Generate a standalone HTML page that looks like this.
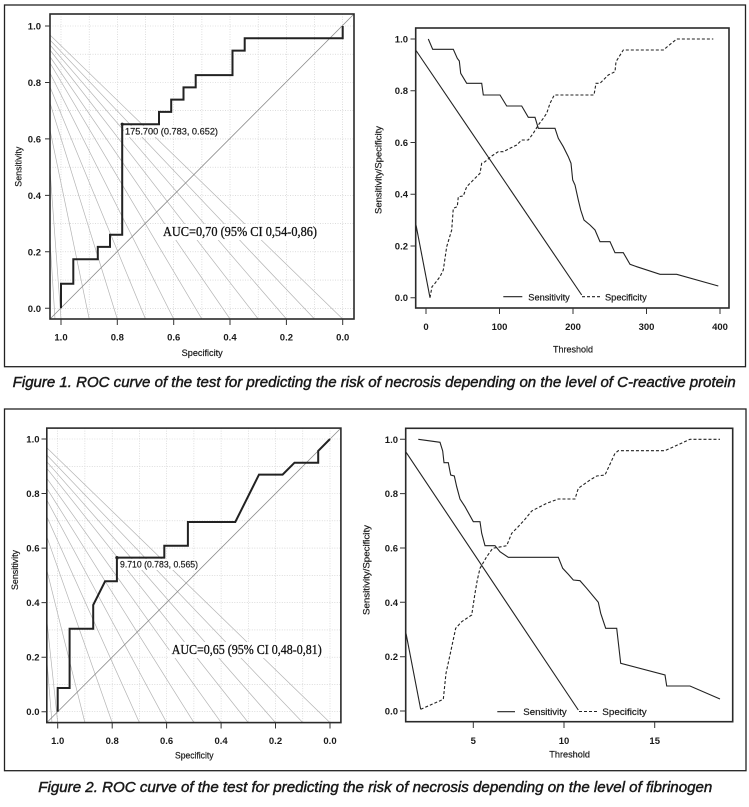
<!DOCTYPE html>
<html><head><meta charset="utf-8"><style>
html,body{margin:0;padding:0;background:#fff;}
svg{display:block;}
.tk{font-family:"Liberation Sans",Arial,sans-serif;font-size:9.5px;font-weight:bold;fill:#1a1a1a;}
.tt{font-family:"Liberation Sans",Arial,sans-serif;font-size:9px;fill:#1a1a1a;stroke:#1a1a1a;stroke-width:0.2;}
.lb{font-family:"Liberation Sans",Arial,sans-serif;font-size:9px;fill:#1a1a1a;stroke:#1a1a1a;stroke-width:0.2;}
.auc{font-family:"Liberation Serif","Times New Roman",serif;font-size:14px;fill:#111;stroke:#111;stroke-width:0.3;}
.cap{font-family:"Liberation Sans",Arial,sans-serif;font-size:14.5px;font-style:italic;fill:#1a1a1a;stroke:#1a1a1a;stroke-width:0.45;}
.fr{fill:none;stroke:#2a2a2a;stroke-width:1.6;}
.gr{stroke:#c8c8c8;stroke-width:0.6;stroke-dasharray:1 1.5;fill:none;}
.fan{stroke:#b4b4b4;stroke-width:0.7;fill:none;}
.roc{fill:none;stroke:#222;stroke-width:2;stroke-linejoin:miter;}
.sl{fill:none;stroke:#222;stroke-width:1.1;}
.ds{fill:none;stroke:#222;stroke-width:1.1;stroke-dasharray:3 2;}
.ax{stroke:#333;stroke-width:1;}
</style></head><body>
<svg width="749" height="807" viewBox="0 0 749 807" xmlns="http://www.w3.org/2000/svg">
<defs>
<clipPath id="ca"><rect x="50" y="14" width="304" height="305"/></clipPath>
<clipPath id="cc"><rect x="46.8" y="428.1" width="294.1" height="294.5"/></clipPath>
</defs>
<rect width="749" height="807" fill="#fff"/>

<!-- Boxes -->
<rect x="4.5" y="5" width="741" height="361.7" fill="none" stroke="#222" stroke-width="1.3"/>
<rect x="4.5" y="409" width="741.5" height="361.7" fill="none" stroke="#222" stroke-width="1.3"/>

<!-- ============ Chart A ============ -->
<g class="gr">
<path d="M61,14V319M89.2,14V319M117.3,14V319M145.5,14V319M173.7,14V319M201.9,14V319M230,14V319M258.2,14V319M286.4,14V319M314.5,14V319M342.7,14V319"/>
<path d="M50,26H354M50,54.2H354M50,82.5H354M50,110.7H354M50,138.9H354M50,167.2H354M50,195.4H354M50,223.6H354M50,251.8H354M50,280.1H354M50,308.3H354"/>
</g>
<g class="fan" clip-path="url(#ca)">
<path d="M50,35L342.7,319M50,40L314.5,319M50,45L286.4,319M50,50L258.2,319M50,56.7L230,319M50,63L201.9,319M50,73L173.7,319M50,87L145.5,319M50,103L117.3,319M50,130L89.2,319M50,170L61,319M50,240L55,319"/>
</g>
<path d="M50,319L354,14" stroke="#8a8a8a" stroke-width="0.8" fill="none"/>
<rect x="124" y="126" width="95" height="11" fill="#fff"/>
<rect x="161" y="224" width="158" height="16" fill="#fff"/>
<path class="roc" d="M61,308.3V283.8H73.3V259.2H97.8V246.9H110V234.7H122.2V124.2H159V111.9H171.2V99.6H183.5V87.4H195.7V75.1H232.5V50.6H244.7V38.3H342.7V26"/>
<circle cx="122.2" cy="124.2" r="1.6" fill="#222"/>
<text class="lb" x="125" y="134.5" textLength="93" lengthAdjust="spacingAndGlyphs">175.700 (0.783, 0.652)</text>
<text class="auc" x="163" y="236" textLength="154" lengthAdjust="spacingAndGlyphs">AUC=0,70 (95% CI 0,54-0,86)</text>
<rect class="fr" x="50" y="14" width="304" height="305"/>
<g class="ax">
<path d="M45,26H50M45,82.5H50M45,138.9H50M45,195.4H50M45,251.8H50M45,308.3H50"/>
<path d="M61,319V325M117.3,319V325M173.7,319V325M230,319V325M286.4,319V325M342.7,319V325"/>
</g>
<g class="tk" text-anchor="end">
<text x="41" y="29.5">1.0</text><text x="41" y="86">0.8</text><text x="41" y="142.4">0.6</text>
<text x="41" y="198.9">0.4</text><text x="41" y="255.3">0.2</text><text x="41" y="311.8">0.0</text>
</g>
<g class="tk" text-anchor="middle">
<text x="61" y="340.5">1.0</text><text x="117.3" y="340.5">0.8</text><text x="173.7" y="340.5">0.6</text>
<text x="230" y="340.5">0.4</text><text x="286.4" y="340.5">0.2</text><text x="342.7" y="340.5">0.0</text>
</g>
<text class="tt" x="181.7" y="356" textLength="41" lengthAdjust="spacingAndGlyphs">Specificity</text>
<text class="tt" transform="translate(21.3,166.7) rotate(-90)" text-anchor="middle" textLength="40" lengthAdjust="spacingAndGlyphs">Sensitivity</text>

<!-- ============ Chart B ============ -->
<path class="sl" d="M415.7,50L581.7,295"/>
<path class="sl" d="M415.7,223.3L430,297.7"/>
<path class="sl" d="M428.3,39L432.7,49.3L453.3,49.3L457.3,58.3L459.3,61L460.7,73.3L466.7,83.3L481.7,83.3L483.3,95L500,95L506.7,106L521.7,106L528.3,117.3L535,117.3L538.3,128.3L555,128.3L558.3,138.3L563.3,146.7L568.3,156.7L571,163.3L572.7,180L575,185L578.3,200L580.7,210L584,220L590,225L595,230L600,241.7L610,241.7L615,252.7L623.3,252.7L630,264.3L636.7,266.7L660,274.3L676.7,274.3L718.3,286"/>
<path class="ds" d="M430,297.7L432,286.7L435,283.3L440,276.7L443.3,270L446.7,246.7L451.7,230L453.3,208.3L457.3,206.7L458.3,196.7L463.3,196L466.7,186.7L473.3,180L480,173.3L481.7,163.3L485,161.7L491.7,156L498.3,151.7L503.3,151.7L510,148.3L516.7,145L521.7,140L528.3,140L533.3,133.3L538.3,125L543.3,118.3L546.7,113.3L550,103.3L554.3,95L594,95L596,83.3L600,83.3L608.3,75L615,71.7L616,61.7L623.3,50L663.3,50L676.7,39L713.3,39"/>
<path class="sl" d="M503.3,296.7H522.3"/>
<path class="ds" d="M582,296.7H600"/>
<text class="lb" x="528.3" y="300.5" textLength="41.5" lengthAdjust="spacingAndGlyphs">Sensitivity</text>
<text class="lb" x="605" y="300.5" textLength="41.7" lengthAdjust="spacingAndGlyphs">Specificity</text>
<rect class="fr" x="415.7" y="28" width="313.3" height="280"/>
<g class="ax">
<path d="M410.5,39H415.7M410.5,90.7H415.7M410.5,142.5H415.7M410.5,194.2H415.7M410.5,246H415.7M410.5,297.7H415.7"/>
<path d="M426,308V314M499.5,308V314M573,308V314M646.5,308V314M720,308V314"/>
</g>
<g class="tk" text-anchor="end">
<text x="408" y="42.5">1.0</text><text x="408" y="94.2">0.8</text><text x="408" y="146">0.6</text>
<text x="408" y="197.7">0.4</text><text x="408" y="249.5">0.2</text><text x="408" y="301.2">0.0</text>
</g>
<g class="tk" text-anchor="middle">
<text x="426" y="330">0</text><text x="499.5" y="330">100</text><text x="573" y="330">200</text>
<text x="646.5" y="330">300</text><text x="720" y="330">400</text>
</g>
<text class="tt" x="553" y="352.5" textLength="40" lengthAdjust="spacingAndGlyphs">Threshold</text>
<text class="tt" transform="translate(381.3,170) rotate(-90)" text-anchor="middle" textLength="88" lengthAdjust="spacingAndGlyphs">Sensitivity/Specificity</text>

<!-- ============ Chart C ============ -->
<g class="gr">
<path d="M57.7,428.1V722.6M84.9,428.1V722.6M112.2,428.1V722.6M139.4,428.1V722.6M166.6,428.1V722.6M193.9,428.1V722.6M221.1,428.1V722.6M248.3,428.1V722.6M275.5,428.1V722.6M302.8,428.1V722.6M330,428.1V722.6"/>
<path d="M46.8,439H340.9M46.8,466.3H340.9M46.8,493.5H340.9M46.8,520.8H340.9M46.8,548.1H340.9M46.8,575.4H340.9M46.8,602.6H340.9M46.8,629.9H340.9M46.8,657.2H340.9M46.8,684.4H340.9M46.8,711.7H340.9"/>
</g>
<g class="fan" clip-path="url(#cc)">
<path d="M46.8,447.7L330,722.6M46.8,455L302.8,722.6M46.8,461.7L275.5,722.6M46.8,468.3L248.3,722.6M46.8,478.3L221.1,722.6M46.8,488.3L193.9,722.6M46.8,500L166.6,722.6M46.8,516.7L139.4,722.6M46.8,536.7L112.2,722.6M46.8,570L84.9,722.6M46.8,620L57.7,722.6M46.8,660L52,722.6"/>
</g>
<path d="M46.8,722.6L340.9,428.1" stroke="#8a8a8a" stroke-width="0.8" fill="none"/>
<rect x="119" y="559" width="80" height="11" fill="#fff"/>
<rect x="169.5" y="642" width="154" height="16" fill="#fff"/>
<path class="roc" d="M57.7,711.7V688H69.6V628.7H93.2V605L105.1,581.3H116.9V557.6H164.3V545.7H187.9V522H235.3L259,474.6H282.6L294.5,462.7H318.2V450.9L330,439"/>
<circle cx="116.9" cy="557.6" r="1.6" fill="#222"/>
<text class="lb" x="120" y="567.5" textLength="78" lengthAdjust="spacingAndGlyphs">9.710 (0.783, 0.565)</text>
<text class="auc" x="171.7" y="654" textLength="150" lengthAdjust="spacingAndGlyphs">AUC=0,65 (95% CI 0,48-0,81)</text>
<rect class="fr" x="46.8" y="428.1" width="294.1" height="294.5"/>
<g class="ax">
<path d="M41.5,439H46.8M41.5,493.5H46.8M41.5,548.1H46.8M41.5,602.6H46.8M41.5,657.2H46.8M41.5,711.7H46.8"/>
<path d="M57.7,722.6V728.5M112.2,722.6V728.5M166.6,722.6V728.5M221.1,722.6V728.5M275.5,722.6V728.5M330,722.6V728.5"/>
</g>
<g class="tk" text-anchor="end">
<text x="39.5" y="442.5">1.0</text><text x="39.5" y="497">0.8</text><text x="39.5" y="551.6">0.6</text>
<text x="39.5" y="606.1">0.4</text><text x="39.5" y="660.7">0.2</text><text x="39.5" y="715.2">0.0</text>
</g>
<g class="tk" text-anchor="middle">
<text x="57.7" y="744">1.0</text><text x="112.2" y="744">0.8</text><text x="166.6" y="744">0.6</text>
<text x="221.1" y="744">0.4</text><text x="275.5" y="744">0.2</text><text x="330" y="744">0.0</text>
</g>
<text class="tt" x="175" y="758.5" textLength="38.5" lengthAdjust="spacingAndGlyphs">Specificity</text>
<text class="tt" transform="translate(18,570) rotate(-90)" text-anchor="middle" textLength="40" lengthAdjust="spacingAndGlyphs">Sensitivity</text>

<!-- ============ Chart D ============ -->
<path class="sl" d="M405.7,451.7L578.3,710"/>
<path class="sl" d="M405.7,631.7L420.7,709.3"/>
<path class="sl" d="M418.3,439.3L440,442.3L442.7,451L444,462.7L448.3,462.7L450.7,475L454.3,476L456.7,486.7L460,499L465,506.7L473.3,521.7L480,521.7L481.7,533.3L485,545.7L495,545.7L500,551.7L508.3,557.3L558.3,557.3L562.7,568.3L568.3,574.3L573.3,580L580,580.7L586.7,588.3L598.3,602.3L600.7,613.3L605.7,628.3L616.7,628.3L620.7,663.3L665,675L666.7,686L690,686L720,699"/>
<path class="ds" d="M420.7,709.3L443.3,699.3L446,673.3L450.7,651.7L455.7,628.3L461.7,621.7L471.7,615L475,593.3L477.3,580L480,568.3L486.7,556.7L492.7,548.3L506.7,545.7L511.7,533.3L516.7,528.3L525,519.3L531.7,511L540,506.7L546.7,503.3L558.3,499L575,499L578.3,488.3L590,480L596.7,476L605,475L615,453.3L618.3,450.7L665,450.7L690,439.3L720,439.3"/>
<path class="sl" d="M497.3,711.7H515"/>
<path class="ds" d="M579,711.5H597"/>
<text class="lb" x="523.3" y="715" textLength="43.4" lengthAdjust="spacingAndGlyphs">Sensitivity</text>
<text class="lb" x="602.3" y="715" textLength="44.4" lengthAdjust="spacingAndGlyphs">Specificity</text>
<rect class="fr" x="405.7" y="428.3" width="327" height="293.4"/>
<g class="ax">
<path d="M400,439.3H405.7M400,493.6H405.7M400,548H405.7M400,602.3H405.7M400,656.7H405.7M400,711H405.7"/>
<path d="M473.3,721.7V728M564,721.7V728M654.7,721.7V728"/>
</g>
<g class="tk" text-anchor="end">
<text x="398" y="442.8">1.0</text><text x="398" y="497.1">0.8</text><text x="398" y="551.5">0.6</text>
<text x="398" y="605.8">0.4</text><text x="398" y="660.2">0.2</text><text x="398" y="714.5">0.0</text>
</g>
<g class="tk" text-anchor="middle">
<text x="473.3" y="744">5</text><text x="564" y="744">10</text><text x="654.7" y="744">15</text>
</g>
<text class="tt" x="549.3" y="757.5" textLength="40.7" lengthAdjust="spacingAndGlyphs">Threshold</text>
<text class="tt" transform="translate(369.7,570) rotate(-90)" text-anchor="middle" textLength="90" lengthAdjust="spacingAndGlyphs">Sensitivity/Specificity</text>

<!-- Captions -->
<text class="cap" x="12.7" y="387" textLength="723" lengthAdjust="spacingAndGlyphs">Figure 1.  ROC curve of the test for predicting the risk of necrosis depending on the level of C-reactive protein</text>
<text class="cap" x="38.3" y="792" textLength="674" lengthAdjust="spacingAndGlyphs">Figure 2.  ROC curve of the test for predicting the risk of necrosis depending on the level of fibrinogen</text>
</svg>
</body></html>
